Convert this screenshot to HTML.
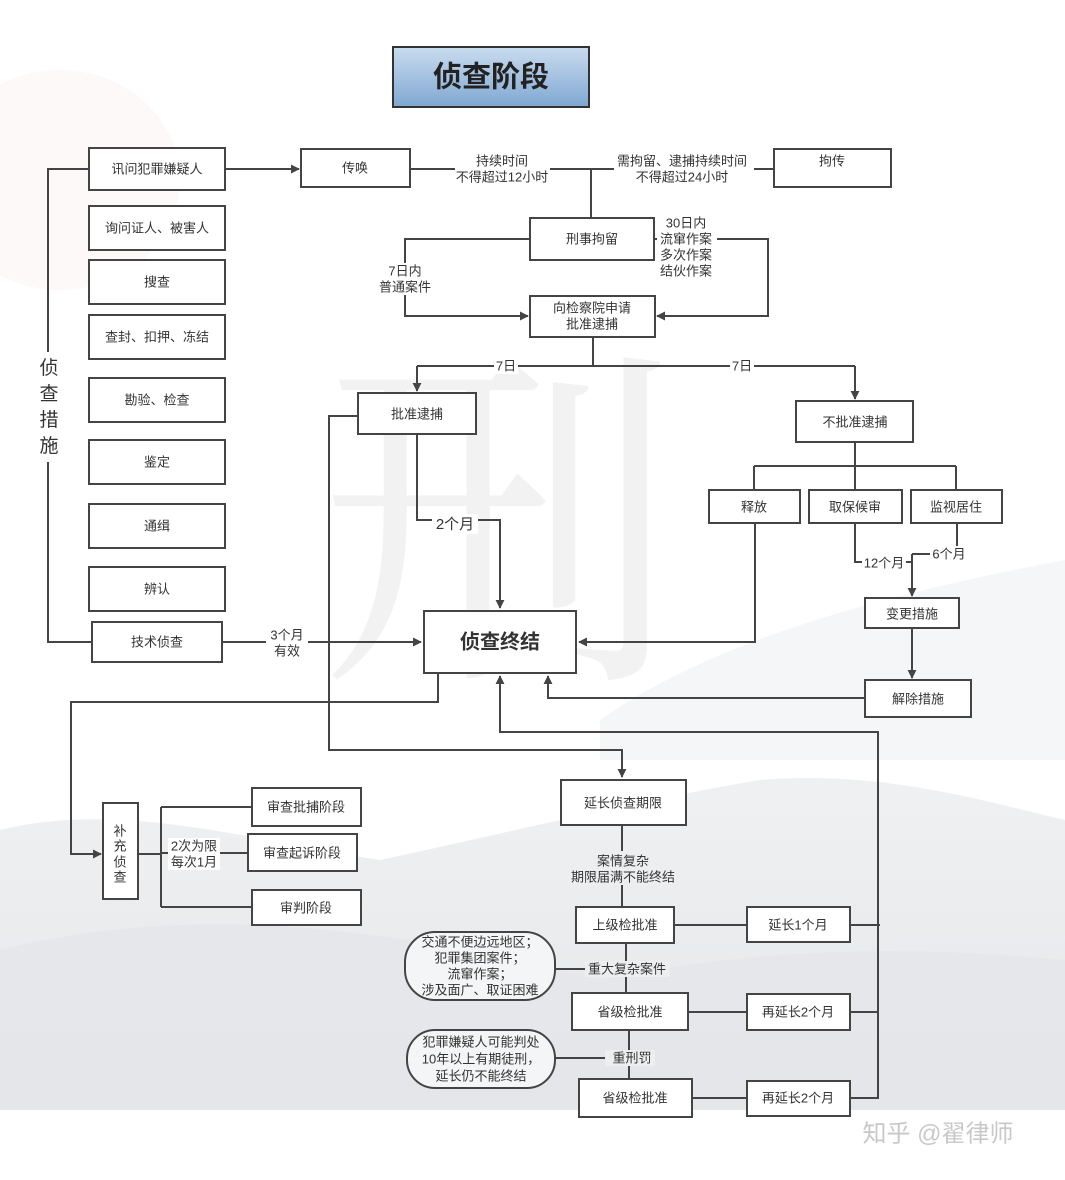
<!DOCTYPE html>
<html><head><meta charset="utf-8"><style>
html,body{margin:0;padding:0;background:#fff}
svg{display:block}
text{font-family:"Liberation Sans","Noto Sans CJK SC",sans-serif;fill:#333;font-size:13px;text-anchor:middle;dominant-baseline:middle}
</style></head><body>
<svg width="1065" height="1180" viewBox="0 0 1065 1180" xmlns="http://www.w3.org/2000/svg">
<defs>
<marker id="a" viewBox="0 0 10 10" refX="9" refY="5" markerWidth="9" markerHeight="9" orient="auto" markerUnits="userSpaceOnUse"><path d="M0,0L10,5L0,10z" fill="#444"/></marker>
<linearGradient id="t" x1="0" y1="0" x2="0" y2="1"><stop offset="0" stop-color="#c9dcef"/><stop offset="1" stop-color="#7fa7d2"/></linearGradient>
<linearGradient id="m" x1="0" y1="0" x2="0" y2="1"><stop offset="0" stop-color="#eceef0"/><stop offset="1" stop-color="#dfe2e5"/></linearGradient>
</defs>
<!-- background -->
<path d="M0,830 C120,800 250,840 380,860 C520,830 640,800 760,780 C880,770 980,800 1065,820 L1065,1110 L0,1110 Z" fill="url(#m)" opacity="0.85"/>
<path d="M0,950 C200,900 400,930 600,980 C800,940 950,950 1065,960 L1065,1110 L0,1110Z" fill="#e4e6e9" opacity="0.7"/>
<path d="M600,720 C700,650 850,600 1065,560 L1065,760 L600,760Z" fill="#f3f4f5" opacity="0.8"/>
<text x="500" y="560" style="font-size:360px;fill:#f2f2f2;font-family:'Noto Serif CJK SC',serif">刑</text>
<ellipse cx="60" cy="180" rx="120" ry="110" fill="#fcf6f6" opacity="0.7"/>
<g fill="none" stroke="#444" stroke-width="2">
<rect x="393" y="47" width="196" height="60" fill="url(#t)" stroke="#333"/>
<rect x="89" y="148" width="136" height="42" fill="#fff"/>
<rect x="89" y="206" width="136" height="44" fill="#fff"/>
<rect x="89" y="260" width="136" height="44" fill="#fff"/>
<rect x="89" y="315" width="136" height="44" fill="#fff"/>
<rect x="89" y="378" width="136" height="44" fill="#fff"/>
<rect x="89" y="440" width="136" height="44" fill="#fff"/>
<rect x="89" y="504" width="136" height="44" fill="#fff"/>
<rect x="89" y="567" width="136" height="44" fill="#fff"/>
<rect x="92" y="622" width="130" height="40" fill="#fff"/>
<path d="M89,169H48V642H92"/>
<path d="M225,169H299" marker-end="url(#a)"/>
<rect x="301" y="149" width="109" height="38" fill="#fff"/>
<rect x="774" y="149" width="117" height="38" fill="#fff"/>
<path d="M410,169H774M591,169V218"/>
<rect x="530" y="218" width="124" height="42" fill="#fff"/>
<path d="M530,239H405V316H528" marker-end="url(#a)"/>
<path d="M654,239H768V316H657" marker-end="url(#a)"/>
<rect x="530" y="296" width="125" height="41" fill="#fff"/>
<path d="M593,337V366M417,366H855"/>
<path d="M417,366V391" marker-end="url(#a)"/>
<path d="M855,366V399" marker-end="url(#a)"/>
<rect x="358" y="393" width="118" height="41" fill="#fff"/>
<rect x="796" y="401" width="117" height="41" fill="#fff"/>
<path d="M417,434V520H500V608" marker-end="url(#a)"/>
<path d="M358,416H329V750H622V777" marker-end="url(#a)"/>
<rect x="424" y="611" width="152" height="62" fill="#fff"/>
<path d="M222,642H421" marker-end="url(#a)"/>
<path d="M855,442V466M754,466H956M754,466V490M855,466V490M956,466V490"/>
<rect x="709" y="490" width="91" height="33" fill="#fff"/>
<rect x="809" y="490" width="93" height="33" fill="#fff"/>
<rect x="911" y="490" width="91" height="33" fill="#fff"/>
<path d="M755,523V642H579" marker-end="url(#a)"/>
<path d="M855,523V562H912M957,523V554H912"/>
<path d="M912,554V596" marker-end="url(#a)"/>
<rect x="865" y="598" width="94" height="30" fill="#fff"/>
<path d="M912,628V678" marker-end="url(#a)"/>
<rect x="865" y="680" width="106" height="37" fill="#fff"/>
<path d="M865,698H548V676" marker-end="url(#a)"/>
<path d="M878,925V732H500V676" marker-end="url(#a)"/>
<path d="M878,925V1099"/>
<path d="M438,673V702H71V854H101" marker-end="url(#a)"/>
<rect x="103" y="803" width="35" height="96" fill="#fff"/>
<path d="M138,854H161M161,807V907M161,807H252M161,907H252M161,853H248"/>
<rect x="252" y="788" width="109" height="38" fill="#fff"/>
<rect x="248" y="834" width="109" height="37" fill="#fff"/>
<rect x="252" y="890" width="109" height="35" fill="#fff"/>
<rect x="561" y="780" width="125" height="45" fill="#fff"/>
<path d="M622,825V907"/>
<rect x="576" y="907" width="98" height="36" fill="#fff"/>
<rect x="747" y="907" width="103" height="35" fill="#fff"/>
<path d="M674,925H747M850,925H880"/>
<path d="M626,943V993M555,969H590"/>
<rect x="405" y="932" width="150" height="68" rx="30" fill="#f4f5f6"/>
<rect x="572" y="993" width="116" height="37" fill="#fff"/>
<rect x="747" y="994" width="103" height="36" fill="#fff"/>
<path d="M688,1012H747M850,1012H878"/>
<path d="M629,1030V1079M555,1058H605"/>
<rect x="407" y="1030" width="148" height="58" rx="28" fill="#f4f5f6"/>
<rect x="579" y="1079" width="113" height="38" fill="#fff"/>
<rect x="747" y="1081" width="103" height="35" fill="#fff"/>
<path d="M692,1098H747M850,1098H878"/>
</g>
<g fill="#fff">
<rect x="40" y="352" width="18" height="110"/>
<rect x="455" y="152" width="95" height="34"/>
<rect x="614" y="152" width="140" height="34"/>
<rect x="657" y="214" width="60" height="66"/>
<rect x="378" y="263" width="55" height="32"/>
<rect x="494" y="358" width="24" height="16"/>
<rect x="730" y="358" width="24" height="16"/>
<rect x="432" y="514" width="46" height="20"/>
<rect x="266" y="626" width="42" height="34"/>
<rect x="862" y="554" width="44" height="16"/>
<rect x="930" y="546" width="38" height="16"/>
<rect x="168" y="838" width="52" height="32"/>
<rect x="565" y="851" width="116" height="34" fill="#eceef0"/>
<rect x="585" y="961" width="85" height="16" fill="#eceef0"/>
<rect x="605" y="1050" width="50" height="16" fill="#eceef0"/>
</g>
<text x="491" y="79" style="font-size:29px;font-weight:bold;fill:#222">侦查阶段</text>
<text x="157" y="170">讯问犯罪嫌疑人</text>
<text x="157" y="229">询问证人、被害人</text>
<text x="157" y="283">搜查</text>
<text x="157" y="338">查封、扣押、冻结</text>
<text x="157" y="401">勘验、检查</text>
<text x="157" y="463">鉴定</text>
<text x="157" y="527">通缉</text>
<text x="157" y="590">辨认</text>
<text x="157" y="643">技术侦查</text>
<text x="49" y="369" style="font-size:19px">侦</text><text x="49" y="395" style="font-size:19px">查</text><text x="49" y="421" style="font-size:19px">措</text><text x="49" y="447" style="font-size:19px">施</text>
<text x="355" y="169">传唤</text>
<text x="502" y="162">持续时间</text><text x="502" y="178">不得超过12小时</text>
<text x="682" y="162">需拘留、逮捕持续时间</text><text x="682" y="178">不得超过24小时</text>
<text x="832" y="162">拘传</text>
<text x="592" y="240">刑事拘留</text>
<text x="686" y="224">30日内</text><text x="686" y="240">流窜作案</text><text x="686" y="256">多次作案</text><text x="686" y="272">结伙作案</text>
<text x="405" y="272">7日内</text><text x="405" y="288">普通案件</text>
<text x="592" y="309">向检察院申请</text><text x="592" y="325">批准逮捕</text>
<text x="506" y="367">7日</text><text x="742" y="367">7日</text>
<text x="417" y="415">批准逮捕</text>
<text x="855" y="423">不批准逮捕</text>
<text x="455" y="525" style="font-size:15px">2个月</text>
<text x="287" y="636">3个月</text><text x="287" y="652">有效</text>
<text x="500" y="643" style="font-size:20px;font-weight:bold;fill:#333">侦查终结</text>
<text x="754" y="508">释放</text>
<text x="855" y="508">取保候审</text>
<text x="956" y="508">监视居住</text>
<text x="884" y="564">12个月</text>
<text x="949" y="555">6个月</text>
<text x="912" y="615">变更措施</text>
<text x="918" y="700">解除措施</text>
<text x="120" y="832">补</text><text x="120" y="847">充</text><text x="120" y="863">侦</text><text x="120" y="878">查</text>
<text x="194" y="847">2次为限</text><text x="194" y="863">每次1月</text>
<text x="306" y="808">审查批捕阶段</text>
<text x="302" y="854">审查起诉阶段</text>
<text x="306" y="909">审判阶段</text>
<text x="623" y="804">延长侦查期限</text>
<text x="623" y="862">案情复杂</text><text x="623" y="878">期限届满不能终结</text>
<text x="625" y="926">上级检批准</text>
<text x="798" y="926">延长1个月</text>
<text x="627" y="970">重大复杂案件</text>
<text x="480" y="943">交通不便边远地区；</text><text x="480" y="959">犯罪集团案件；</text><text x="480" y="975">流窜作案；</text><text x="480" y="991">涉及面广、取证困难</text>
<text x="630" y="1013">省级检批准</text>
<text x="798" y="1013">再延长2个月</text>
<text x="632" y="1059">重刑罚</text>
<text x="481" y="1043">犯罪嫌疑人可能判处</text><text x="481" y="1060">10年以上有期徒刑，</text><text x="481" y="1077">延长仍不能终结</text>
<text x="635" y="1099">省级检批准</text>
<text x="798" y="1099">再延长2个月</text>
<text x="938" y="1135" style="font-size:24px;fill:#c8c8c8">知乎 @翟律师</text>
</svg>
</body></html>
